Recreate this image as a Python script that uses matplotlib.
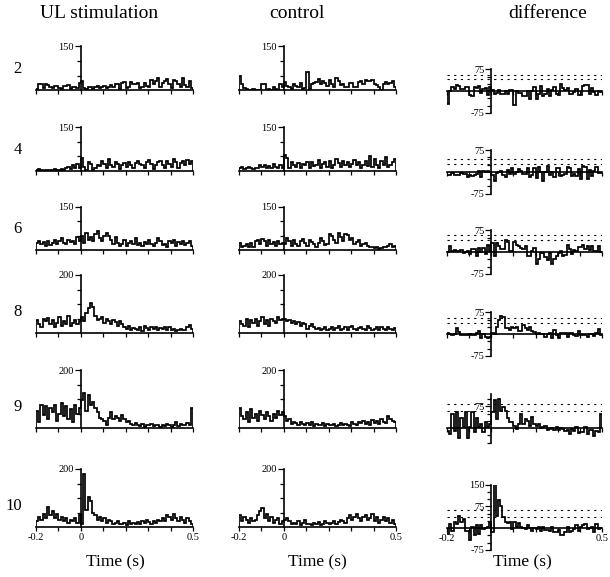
import numpy as np
import matplotlib
matplotlib.use('Agg')
import matplotlib.pyplot as plt
from matplotlib.ticker import FixedLocator, FixedFormatter, NullFormatter

plt.rcParams['font.family'] = ['Liberation Serif', 'DejaVu Serif']

# 10 ms bins from -0.2 s to 0.5 s
edges = np.round(np.linspace(-0.2, 0.5, 71), 3)

rows = ['2', '4', '6', '8', '9', '10']
col_titles = ['UL stimulation', 'control', 'difference']

stim_2 = [5, 20, 22, 8, 20, 18, 12, 6, 15, 15, 8, 3, 15, 14, 16, 4, 12, 12, 8, 25,
          30, 6, 3, 10, 10, 4, 12, 14, 8, 10, 15, 6, 12, 18, 10, 20, 22, 4, 25, 28,
          8, 10, 28, 22, 20, 24, 6, 12, 24, 15, 10, 36, 22, 30, 40, 12, 25, 30, 38, 20,
          8, 35, 32, 20, 12, 40, 18, 10, 30, 8]
ctrl_2 = [50, 20, 8, 2, 0, 0, 5, 0, 0, 0, 22, 20, 0, 5, 0, 10, 5, 0, 22, 10,
          28, 15, 10, 5, 22, 15, 12, 25, 5, 8, 62, 5, 20, 25, 28, 38, 22, 30, 25, 15,
          35, 20, 12, 40, 30, 18, 22, 10, 10, 25, 25, 12, 10, 28, 30, 22, 35, 32, 30, 34,
          22, 18, 10, 0, 22, 28, 20, 25, 30, 12]

stim_4 = [3, 6, 3, 0, 4, 3, 4, 2, 6, 3, 4, 8, 3, 10, 15, 8, 20, 12, 25, 10,
          45, 15, 5, 30, 25, 5, 10, 20, 18, 35, 25, 12, 40, 20, 15, 30, 25, 8, 20, 28,
          15, 30, 22, 10, 28, 35, 25, 20, 12, 30, 38, 25, 8, 22, 30, 35, 20, 12, 35, 25,
          15, 40, 30, 12, 28, 35, 20, 38, 25, 35]
ctrl_4 = [12, 15, 8, 12, 15, 12, 8, 10, 12, 20, 15, 22, 12, 18, 10, 25, 15, 12, 20, 10,
          55, 45, 10, 30, 22, 15, 28, 12, 25, 20, 32, 12, 30, 18, 22, 38, 10, 25, 30, 15,
          35, 12, 22, 40, 28, 15, 35, 20, 30, 15, 25, 38, 20, 30, 12, 22, 35, 18, 50, 15,
          40, 20, 12, 35, 22, 48, 15, 20, 30, 40]

stim_6 = [25, 30, 20, 28, 15, 30, 18, 25, 35, 22, 30, 40, 25, 20, 35, 28, 30, 22, 45, 30,
          50, 25, 60, 35, 45, 30, 55, 65, 40, 30, 50, 60, 48, 35, 20, 45, 25, 15, 20, 35,
          15, 25, 30, 20, 40, 18, 25, 15, 28, 20, 35, 22, 15, 25, 40, 30, 18, 22, 12, 30,
          25, 35, 15, 28, 20, 32, 18, 25, 30, 15]
ctrl_6 = [25, 10, 15, 20, 10, 25, 12, 30, 35, 20, 38, 30, 15, 35, 22, 28, 15, 30, 20, 25,
          20, 40, 30, 15, 35, 20, 15, 30, 38, 25, 15, 35, 28, 20, 10, 25, 40, 30, 18, 20,
          55, 48, 35, 25, 58, 45, 30, 55, 52, 35, 40, 20, 28, 35, 15, 20, 25, 15, 10, 12,
          8, 10, 5, 8, 12, 10, 15, 20, 10, 15]

stim_8 = [45, 30, 20, 50, 40, 52, 30, 45, 20, 35, 55, 25, 40, 30, 60, 25, 35, 45, 30, 40,
          55, 40, 70, 85, 105, 90, 60, 45, 50, 55, 35, 48, 40, 30, 45, 38, 25, 40, 30, 20,
          15, 25, 10, 18, 15, 12, 20, 8, 25, 18, 12, 20, 15, 22, 10, 18, 15, 20, 12, 22,
          10, 15, 8, 12, 15, 10, 12, 20, 28, 15]
ctrl_8 = [40, 30, 25, 50, 20, 45, 35, 50, 25, 40, 55, 30, 45, 25, 50, 40, 35, 55, 45, 50,
          50, 40, 45, 35, 42, 30, 38, 25, 35, 30, 15, 25, 30, 20, 15, 18, 10, 15, 20, 12,
          15, 20, 10, 18, 25, 12, 15, 22, 10, 20, 25, 15, 10, 18, 22, 15, 12, 25, 18, 10,
          15, 20, 12, 22, 15, 10, 20, 15, 12, 18]

stim_9 = [60, 20, 80, 45, 75, 30, 70, 55, 80, 25, 50, 85, 40, 75, 30, 65, 20, 80, 50, 70,
          95, 120, 60, 115, 80, 90, 70, 55, 35, 30, 25, 10, 35, 55, 30, 40, 35, 25, 45, 30,
          20, 25, 15, 10, 18, 12, 8, 15, 5, 10, 12, 15, 8, 12, 10, 5, 12, 8, 15, 10,
          5, 12, 20, 8, 15, 10, 12, 18, 10, 70]
ctrl_9 = [70, 40, 30, 55, 20, 65, 35, 50, 25, 60, 45, 30, 55, 40, 25, 50, 35, 60, 45, 55,
          40, 25, 30, 15, 20, 18, 12, 22, 15, 10, 18, 12, 20, 8, 15, 10, 12, 18, 8, 15,
          12, 10, 15, 8, 12, 18, 10, 15, 12, 8, 20, 15, 10, 22, 18, 25, 15, 20, 12, 28,
          18, 25, 15, 30, 22, 18, 40, 30, 25, 20]

stim_10 = [20, 35, 25, 45, 30, 70, 40, 55, 30, 45, 25, 35, 20, 30, 15, 25, 20, 30, 15, 40,
           10, 182, 60, 105, 90, 50, 40, 25, 35, 20, 30, 15, 25, 20, 10, 15, 20, 12, 10, 15,
           8, 20, 10, 15, 12, 18, 10, 20, 15, 25, 18, 12, 22, 15, 25, 20, 30, 22, 40, 35,
           25, 45, 30, 20, 35, 25, 15, 30, 20, 10]
ctrl_10 = [40, 20, 35, 25, 15, 30, 20, 25, 40, 55, 65, 30, 45, 20, 35, 15, 25, 30, 10, 20,
           25, 30, 20, 10, 15, 12, 20, 8, 15, 25, 10, 12, 8, 15, 10, 18, 8, 12, 20, 15,
           10, 15, 20, 12, 18, 25, 20, 15, 30, 40, 25, 35, 45, 30, 20, 35, 40, 25, 30, 45,
           20, 35, 15, 25, 35, 20, 30, 15, 25, 10]

stim = [stim_2, stim_4, stim_6, stim_8, stim_9, stim_10]
ctrl = [ctrl_2, ctrl_4, ctrl_6, ctrl_8, ctrl_9, ctrl_10]

hist_top = [150, 150, 150, 200, 200, 200]
diff_lim = [(-75, 75), (-75, 75), (-75, 75), (-75, 75), (-52, 118), (-75, 150)]
# significance levels (dotted lines) in the difference panels
sig_lines = [(41, 55), (28, 44), (42, 58), (38, 55), (58, 82), (39, 61)]

# layout in pixels
W, H = 610, 577
col_x = [(36, 193), (239, 396), (447, 602)]
base_y = [90, 171, 250, 333, 428, 527]
diff_y = [91, 172, 252, 334, 428, 528]
k = 0.29  # px per count

fig = plt.figure(figsize=(W / 100, H / 100), dpi=100)


def px_axes(x0, x1, ytop, ybot):
    return fig.add_axes([x0 / W, 1 - ybot / H, (x1 - x0) / W, (ybot - ytop) / H])


def style(ax, ymajor, yminor, ylabels, last):
    for s in ['top', 'right']:
        ax.spines[s].set_visible(False)
    ax.spines['left'].set_position(('data', 0))
    ax.spines['bottom'].set_position(('data', 0))
    ax.spines['left'].set_linewidth(1.2)
    ax.spines['bottom'].set_linewidth(1.2)
    ax.xaxis.set_major_locator(FixedLocator([-0.2, 0, 0.5]))
    ax.xaxis.set_minor_locator(FixedLocator([-0.1, 0.1, 0.2, 0.3, 0.4]))
    ax.yaxis.set_major_locator(FixedLocator(ymajor))
    ax.yaxis.set_minor_locator(FixedLocator(yminor))
    ax.yaxis.set_major_formatter(FixedFormatter(ylabels))
    ax.tick_params(axis='both', which='both', direction='out', width=0.9,
                   length=3, labelsize=7.5, pad=1)
    ax.tick_params(axis='y', which='major', length=4)
    ax.set_xlim(-0.2, 0.5)
    if not last:
        ax.xaxis.set_major_formatter(NullFormatter())


for r in range(6):
    last = r == 5
    top = hist_top[r]
    for c in range(2):
        vals = stim[r] if c == 0 else ctrl[r]
        x0, x1 = col_x[c]
        ax = px_axes(x0, x1, base_y[r] - top * k, base_y[r])
        ax.stairs(vals, edges, baseline=0, color='k', lw=1.25)
        ax.set_ylim(0, top)
        style(ax, [top], list(range(50, top, 50)), [str(top)], last)
        if last:
            ax.xaxis.set_major_formatter(FixedFormatter(['-0.2', '0', '0.5']))

    lo, hi = diff_lim[r]
    dv = np.array(stim[r]) - np.array(ctrl[r])
    x0, x1 = col_x[2]
    ax = px_axes(x0, x1, diff_y[r] - hi * k, diff_y[r] - lo * k)
    for lvl in sig_lines[r]:
        ax.axhline(lvl, color='k', lw=0.8, ls=(0, (2, 4)))
    ax.stairs(dv, edges, baseline=0, color='k', lw=1.25)
    ax.set_ylim(lo, hi)
    ymaj = [v for v in [-75, 75, 150] if lo <= v <= hi]
    ymin = [v for v in range(-75, 151, 25) if lo <= v <= hi and v not in ymaj and v != 0]
    style(ax, ymaj, ymin, [str(v) for v in ymaj], last)
    if last:
        ax.xaxis.set_major_formatter(FixedFormatter(['-0.2', '', '0.5']))

    fig.text(22 / W, 1 - (base_y[r] - 21) / H, rows[r], ha='right', va='center', fontsize=12)

title_x = [99, 297, 548]
for t, x in zip(col_titles, title_x):
    fig.text(x / W, 1 - 14 / H, t, ha='center', va='center', fontsize=14)

for x in [115, 317, 522]:
    fig.text(x / W, 1 - 562 / H, 'Time (s)', ha='center', va='center', fontsize=12.5)

fig.savefig('out.png', dpi=100)
